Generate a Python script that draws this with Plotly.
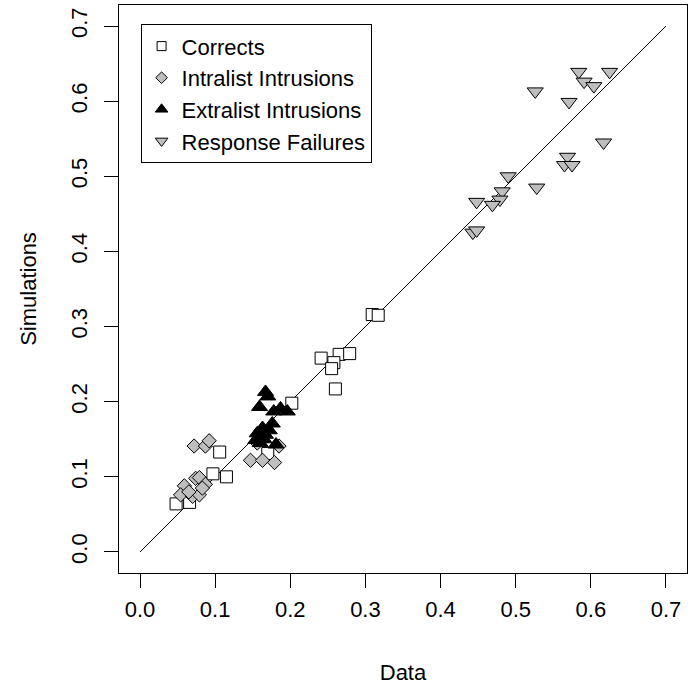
import plotly.graph_objects as go

# Observed (Data) vs. simulated (Simulations) response proportions
corrects_x = [0.048, 0.066, 0.097, 0.115, 0.106, 0.170, 0.202, 0.260, 0.241,
              0.265, 0.279, 0.258, 0.255, 0.309, 0.317]
corrects_y = [0.064, 0.066, 0.104, 0.100, 0.133, 0.131, 0.198, 0.217, 0.258,
              0.263, 0.264, 0.252, 0.244, 0.316, 0.315]

intralist_x = [0.072, 0.087, 0.092, 0.059, 0.074, 0.079, 0.087, 0.054, 0.070,
               0.079, 0.065, 0.147, 0.163, 0.179, 0.185, 0.156, 0.083]
intralist_y = [0.141, 0.141, 0.148, 0.088, 0.098, 0.099, 0.090, 0.076, 0.074,
               0.076, 0.080, 0.122, 0.122, 0.119, 0.141, 0.145, 0.085]

extralist_x = [0.167, 0.170, 0.159, 0.187, 0.196, 0.178, 0.176, 0.163, 0.156,
               0.167, 0.154, 0.181, 0.165, 0.172, 0.160]
extralist_y = [0.213, 0.207, 0.193, 0.191, 0.187, 0.187, 0.171, 0.165, 0.158,
               0.156, 0.149, 0.143, 0.150, 0.162, 0.145]

failures_x = [0.526, 0.571, 0.584, 0.591, 0.604, 0.625, 0.617, 0.569, 0.565,
              0.575, 0.490, 0.482, 0.479, 0.469, 0.448, 0.528, 0.443, 0.448]
failures_y = [0.613, 0.599, 0.639, 0.626, 0.620, 0.639, 0.545, 0.526, 0.515,
              0.515, 0.500, 0.480, 0.469, 0.462, 0.466, 0.485, 0.425, 0.428]

identity = [0.0, 0.7]
tick_vals = [0.0, 0.1, 0.2, 0.3, 0.4, 0.5, 0.6, 0.7]
tick_text = ["0.0", "0.1", "0.2", "0.3", "0.4", "0.5", "0.6", "0.7"]

FONT = "Liberation Sans, Arial, sans-serif"
FS = 22
GRAY = "#BEBEBE"

series = [
    ("Corrects", corrects_x, corrects_y, "square", "white", 12, 9),
    ("Intralist Intrusions", intralist_x, intralist_y, "diamond", GRAY, 11, 9),
    ("Extralist Intrusions", extralist_x, extralist_y, "triangle-up", "black", 14, 11),
    ("Response Failures", failures_x, failures_y, "triangle-down", GRAY, 14, 11),
]

fig = go.Figure()

# y = x reference line
fig.add_trace(go.Scatter(x=identity, y=identity, mode="lines",
                         line=dict(color="black", width=1), showlegend=False,
                         hoverinfo="skip"))

for name, xs, ys, sym, fill, size, _ in series:
    fig.add_trace(go.Scatter(
        x=xs, y=ys, mode="markers", name=name, showlegend=False,
        marker=dict(symbol=sym, size=size, color=fill,
                    line=dict(color="black", width=1))))

# legend entries with smaller symbols
for name, _, _, sym, fill, _, lsize in series:
    fig.add_trace(go.Scatter(
        x=[None], y=[None], mode="markers", name=name,
        marker=dict(symbol=sym, size=lsize, color=fill,
                    line=dict(color="black", width=1))))

axis_common = dict(
    range=[-0.028, 0.728], tickvals=tick_vals, ticktext=tick_text,
    ticks="outside", ticklen=14, tickwidth=1, tickcolor="black",
    showline=True, linecolor="black", linewidth=1, mirror=True,
    showgrid=False, zeroline=False,
    tickfont=dict(family=FONT, size=FS, color="black"),
)

fig.update_layout(
    width=694, height=698,
    margin=dict(l=119, r=7, t=5, b=125),
    paper_bgcolor="white", plot_bgcolor="white",
    xaxis=dict(axis_common, ticklabelstandoff=3,
               title=dict(text="Data", standoff=43,
                          font=dict(family=FONT, size=FS, color="black"))),
    yaxis=dict(axis_common, tickangle=-90, ticklabelstandoff=8,
               title=dict(text="Simulations", standoff=24,
                          font=dict(family=FONT, size=FS, color="black"))),
    legend=dict(x=0.038, y=0.966, xanchor="left", yanchor="top",
                bordercolor="black", borderwidth=1, bgcolor="white",
                font=dict(family=FONT, size=FS, color="black"),
                tracegroupgap=0, itemwidth=30,
                entrywidth=200, entrywidthmode="pixels"),
    showlegend=True,
)

fig.write_html("out.html")
